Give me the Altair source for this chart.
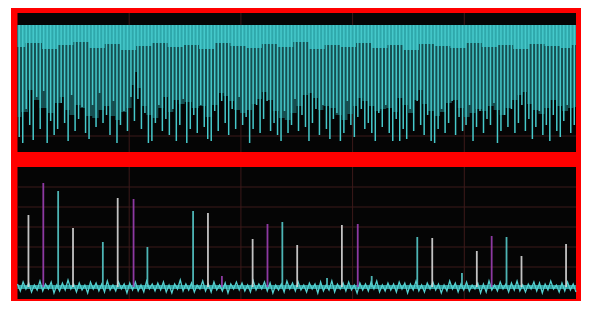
import altair as alt
import pandas as pd

# ---------------- top panel (spectrum-like trace), x = bin, level in dB ----------------
LINE_DEPTH = [
    -112, -118, -84, -100, -115, -72, -104, -66, -118, -96, -110, -104, -78, -98, -116, -70, -106, -94, -82, -108,
    -114, -80, -102, -68, -98, -90, -110, -76, -118, -100, -86, -106, -72, -96, -74, -104, -88, -118, -116, -98,
    -80, -106, -94, -110, -84, -116, -100, -74, -118, -104, -90, -108, -80, -102, -114, -116, -86, -106, -76, -98,
    -110, -84, -104, -72, -100, -92, -118, -104, -80, -108, -94, -76, -106, -98, -110, -116, -86, -108, -100, -74,
    -106, -90, -102, -116, -98, -84, -110, -80, -104, -114, -94, -88, -116, -108, -76, -100, -112, -92, -84, -104,
    -98, -108, -116, -88, -102, -80, -108, -116, -94, -116, -104, -114, -84, -106, -76, -100, -110, -90, -116, -118,
    -104, -84, -108, -98, -76, -110, -92, -106, -100, -80, -116, -102, -86, -108, -94, -100, -78, -118, -106, -90,
    -102, -84, -108, -98, -80, -106, -94, -114, -102, -86, -110, -100, -116, -90, -106, -112, -96, -80, -108, -100,
]
MT_BIN = [-0.5, 1.7, 3.4, 4.8, 6.8, 9.1, 11.1, 12.2, 13.7, 15.1, 16.8, 18.2, 19.9, 21.9, 23.6, 25.1, 26.8,
          28.2, 29.9, 31.6, 32.8, 33.3, 34.2, 35.6, 37.3, 39.0, 40.7, 41.9, 43.3, 45.0, 46.4, 48.4, 50.4,
          52.4, 54.4, 56.1, 57.8, 59.3, 60.7, 62.4, 64.1, 65.8, 67.5, 68.7, 70.3, 71.8, 73.5, 75.2, 76.9,
          78.6, 80.3, 82.0, 83.5, 84.9, 86.3, 88.0, 89.7, 91.5, 93.2, 94.9, 96.3, 97.4, 99.1, 100.9, 102.6,
          104.3, 106.0, 107.7, 109.1, 110.5, 112.3, 114.0, 114.8, 116.2, 117.9, 119.7, 121.4, 123.1, 124.8,
          126.5, 128.2, 129.9, 131.6, 133.3, 135.0, 136.8, 138.5, 140.2, 141.9, 143.6, 144.7, 146.2, 147.9,
          149.6, 151.3, 153.0, 154.7, 156.4, 158.1, 159.5]
MT_LVL = [-92, -87, -65, -75, -83, -88, -78, -72, -85, -90, -80, -83, -91, -93, -85, -81, -91, -95, -87, -83,
          -60, -47, -63, -81, -90, -93, -83, -72, -87, -75, -79, -77, -83, -81, -92, -80, -68, -71, -76, -85,
          -88, -85, -79, -74, -67, -75, -86, -93, -95, -88, -81, -70, -68, -73, -85, -81, -83, -90, -95, -89,
          -81, -73, -76, -81, -86, -84, -83, -87, -73, -80, -88, -75, -65, -79, -86, -91, -87, -78, -75, -83,
          -92, -88, -84, -86, -81, -85, -90, -83, -75, -70, -67, -79, -85, -89, -83, -75, -81, -86, -83, -82]
BAND_BIN = [-0.5, 4, 9, 13, 18, 22, 27, 31, 36, 40, 45, 49, 54, 58, 63, 67, 72, 76, 81, 85, 90, 94, 99, 103,
            108, 112, 117, 121, 126, 130, 135, 139, 144, 148, 153, 157, 159.5]
BAND_LVL = [-22, -18, -24, -20, -17, -23, -19, -25, -21, -18, -22, -20, -24, -18, -21, -23, -19, -22, -17,
            -24, -20, -22, -18, -23, -20, -25, -19, -21, -23, -18, -22, -20, -24, -19, -21, -23, -20]
TOP_GRID = [-111]

# ---------------- bottom panel (pulse trace), x = time ms, y = mV ----------------
SPIKE_T = [9.8, 23.1, 36.4, 49.7, 76.4, 89.7, 103.9, 116.3, 157.2, 170.5, 183.0, 210.5, 223.8, 237.1,
           250.4, 277.1, 290.4, 304.6, 317.1, 357.9, 371.3, 397.9, 411.2, 424.5, 437.8, 451.2, 491.1]
SPIKE_MV = [72, 104, 96, 59, 45, 89, 88, 40, 76, 74, 11, 48, 63, 65, 42, 9, 62, 63, 11, 50, 49, 14, 36,
            51, 50, 31, 43]
SPIKE_CH = ["B", "C", "A", "B", "A", "B", "C", "A", "A", "B", "C", "B", "C", "A", "B", "A", "B", "C", "A",
            "A", "B", "A", "B", "C", "A", "B", "B"]
NOISE = [
    3, -4, 5, -2, 4, -5, 2, -3, 6, -4, 3, -2, 5, -6, 2, -4, 4, -3, 7, -2,
    3, -5, 4, -3, 2, -6, 5, -2, 4, -4, 3, -5, 6, -3, 2, -4, 5, -2, 3, -6,
    4, -3, 5, -4, 2, -5, 6, -2, 3, -4, 4, -3, 5, -5, 2, -6, 3, -2, 7, -4,
    3, -3, 4, -5, 2, -2, 6, -4, 3, -5, 5, -3, 2, -4, 4, -6, 3, -2, 5, -3,
    4, -4, 2, -5, 6, -3, 3, -2, 5, -4, 4, -6, 2, -3, 3, -5, 6, -2, 4, -4,
    5, -3, 2, -5, 4, -2, 3, -6, 5, -4, 2, -3, 6, -5, 3, -2, 4, -4, 5, -3,
    2, -6, 4, -3, 3, -4, 5, -2, 6, -5, 2, -4, 4, -3, 3, -5, 5, -2, 4, -6,
    3, -3, 6, -4, 2, -5, 4, -2, 5, -3, 3, -6, 2, -4, 6, -2, 4, -5, 3, -3,
    5, -4, 2, -2, 4, -6, 3, -5, 6, -3, 2, -4, 5, -2, 3, -5, 4, -3, 6, -4,
    2, -5, 3, -2, 5, -4, 4, -6, 3, -3, 6, -2, 2, -5, 4, -4, 5, -3, 3, -5,
]
GRID_T = [100, 200, 300, 400]
GRID_MV = [20, 40, 60, 80, 100]

# ---------------- scales ----------------
X0, X1 = 9.5, 568
xb = alt.Scale(domain=[-0.5, 159.5], range=[X0, X1], nice=False, zero=False)
yt = alt.Scale(domain=[-125, 0], range=[142, 17], nice=False, zero=False)
xt = alt.Scale(domain=[0, 500], range=[X0, X1], nice=False, zero=False)
xn = alt.Scale(domain=[0, len(NOISE) - 1], range=[X0, X1], nice=False, zero=False)
yb = alt.Scale(domain=[-20, 120], range=[299, 159], nice=False, zero=False)

one = pd.DataFrame({"k": [0]})
df_lines = pd.DataFrame({"bin": list(range(len(LINE_DEPTH))), "top": [0] * len(LINE_DEPTH), "depth": LINE_DEPTH})
df_mt = pd.DataFrame({"bin": MT_BIN, "top": [0] * len(MT_BIN), "lvl": MT_LVL})
df_band = pd.DataFrame({"bin": BAND_BIN, "top": [0] * len(BAND_BIN), "lvl": BAND_LVL})
df_tg = pd.DataFrame({"lvl": TOP_GRID})
df_spk = pd.DataFrame({"t": SPIKE_T, "base": [0] * len(SPIKE_T), "mv": SPIKE_MV, "ch": SPIKE_CH})
df_noise = pd.DataFrame({"n": list(range(len(NOISE))), "mv": NOISE})
df_gt = pd.DataFrame({"t": GRID_T})
df_gm = pd.DataFrame({"mv": GRID_MV})
df_base = pd.DataFrame({"mv": [0]})

RED = "#ff0000"
GRID = "#3c1a1a"

frame = alt.Chart(one).mark_rect(color=RED).encode(
    x=alt.value(3), x2=alt.value(573), y=alt.value(0), y2=alt.value(293))
screen = alt.Chart(one).mark_rect(color="#050505").encode(
    x=alt.value(X0), x2=alt.value(X1), y=alt.value(5), y2=alt.value(291))
vgrid = alt.Chart(df_gt).mark_rule(color=GRID, strokeWidth=1).encode(
    x=alt.X("t:Q", scale=xt, axis=None), y=alt.value(5), y2=alt.value(291))
tgrid = alt.Chart(df_tg).mark_rule(color=GRID, strokeWidth=1).encode(
    y=alt.Y("lvl:Q", scale=yt, axis=None), x=alt.value(X0), x2=alt.value(X1))
bgrid = alt.Chart(df_gm).mark_rule(color=GRID, strokeWidth=1).encode(
    y=alt.Y("mv:Q", scale=yb, axis=None), x=alt.value(X0), x2=alt.value(X1))

mountain = alt.Chart(df_mt).mark_area(interpolate="step", color="#164f51").encode(
    x=alt.X("bin:Q", scale=xb, axis=None), y=alt.Y("top:Q", scale=yt, axis=None), y2="lvl:Q")
band = alt.Chart(df_band).mark_area(interpolate="step", color="#2fa8ab").encode(
    x=alt.X("bin:Q", scale=xb, axis=None), y=alt.Y("top:Q", scale=yt, axis=None), y2="lvl:Q")
lines = alt.Chart(df_lines).mark_rule(color="#46c9cb", strokeWidth=1.5).encode(
    x=alt.X("bin:Q", scale=xb, axis=None), y=alt.Y("top:Q", scale=yt, axis=None), y2="depth:Q")

baseline = alt.Chart(df_base).mark_rule(color="#2f9c9c", strokeWidth=4).encode(
    y=alt.Y("mv:Q", scale=yb, axis=None), x=alt.value(X0), x2=alt.value(X1))
noise = alt.Chart(df_noise).mark_line(color="#55d0d0", strokeWidth=1.3).encode(
    x=alt.X("n:Q", scale=xn, axis=None), y=alt.Y("mv:Q", scale=yb, axis=None))
spikes = alt.Chart(df_spk).mark_rule(strokeWidth=1.8, opacity=0.9).encode(
    x=alt.X("t:Q", scale=xt, axis=None),
    y=alt.Y("base:Q", scale=yb, axis=None), y2="mv:Q",
    color=alt.Color("ch:N", scale=alt.Scale(domain=["A", "B", "C"],
                                            range=["#55c9c9", "#d8d8d8", "#9c3fb4"]), legend=None))

separator = alt.Chart(one).mark_rect(color=RED).encode(
    x=alt.value(3), x2=alt.value(573), y=alt.value(144), y2=alt.value(159))

chart = alt.layer(
    frame, screen, vgrid, tgrid, bgrid,
    mountain, band, lines,
    baseline, noise, spikes,
    separator,
).resolve_scale(x="independent", y="independent", color="independent").properties(
    width=573, height=293, padding=0, background="white"
).configure_view(strokeWidth=0)

chart.save("out.html", embed_options={"renderer": "svg", "actions": False})
